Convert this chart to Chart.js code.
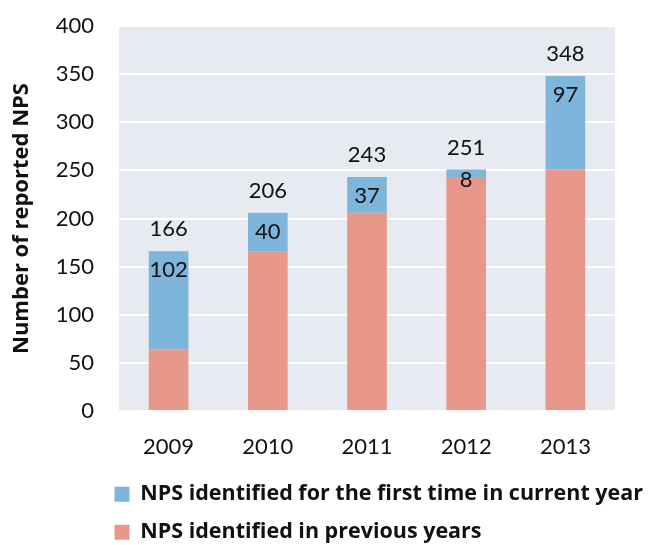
<!DOCTYPE html>
<html>
<head>
<meta charset="utf-8">
<script src="https://cdn.jsdelivr.net/npm/chart.js@4"></script>
<style>
  html, body { margin: 0; padding: 0; background: #fff; }
  #wrap { width: 654px; height: 545px; }
</style>
</head>
<body>
<div id="wrap"><canvas id="grafico"></canvas></div>
<script>
const anos = ['2009', '2010', '2011', '2012', '2013'];
const anteriores = [64, 166, 206, 243, 251];
const novos = [102, 40, 37, 8, 97];
const ticksY = [0, 50, 100, 150, 200, 250, 300, 350, 400];

const FONTE = 'Lato, "Open Sans", sans-serif';
const FONTE_NEGRITO = '"Open Sans", Roboto, sans-serif';

// fundo da area do grafico
const fundoPlugin = {
    id: 'fundo',
    beforeDraw(chart) {
        const { ctx, chartArea: a } = chart;
        ctx.save();
        ctx.fillStyle = '#e8eaf1';
        ctx.fillRect(a.left, a.top, a.right - a.left, a.bottom - a.top);
        ctx.restore();
    }
};

// rotulos: valor do segmento azul e total acima da barra
const rotulosPlugin = {
    id: 'rotulos',
    afterDatasetsDraw(chart) {
        const { ctx } = chart;
        const metaNovos = chart.getDatasetMeta(1);
        ctx.save();
        ctx.font = '22px ' + FONTE;
        ctx.fillStyle = '#111';
        ctx.textAlign = 'center';
        ctx.textBaseline = 'middle';
        metaNovos.data.forEach((bar, i) => {
            const topo = bar.y;
            const base = bar.base;
            const yIn = Math.min(topo + 19, (topo + base) / 2 + 7);
            ctx.fillText(String(novos[i]), bar.x, yIn);
            ctx.fillText(String(anteriores[i] + novos[i]), bar.x, topo - 22);
        });
        ctx.restore();
    }
};

// legenda alinhada a esquerda como no original (e sem corte a direita)
const legendaPlugin = {
    id: 'legendaPos',
    afterLayout(chart) {
        const leg = chart.legend;
        if (leg) {
            leg.left = leg.left - 21;
            leg.right = chart.width;
            leg.width = leg.right - leg.left;
        }
    }
};

const ctx = document.getElementById('grafico').getContext('2d');
new Chart(ctx, {
    type: 'bar',
    data: {
        labels: anos,
        datasets: [
            {
                label: 'NPS identified in previous years',
                data: anteriores,
                backgroundColor: '#e8978b',
                borderWidth: 0,
                barPercentage: 0.4,
                categoryPercentage: 1.0
            },
            {
                label: 'NPS identified for the first time in current year',
                data: novos,
                backgroundColor: '#7eb5db',
                borderWidth: 0,
                barPercentage: 0.4,
                categoryPercentage: 1.0
            }
        ]
    },
    options: {
        responsive: true,
        maintainAspectRatio: false,
        animation: false,
        layout: { padding: { top: 26, right: 39, bottom: -8, left: 0 } },
        scales: {
            x: {
                stacked: true,
                grid: { display: false, drawTicks: false },
                border: { display: false },
                ticks: { color: '#111', font: { family: FONTE, size: 22 }, padding: 23 },
                afterFit(scale) { scale.height = 56; }
            },
            y: {
                stacked: true,
                min: 0,
                max: 400,
                afterBuildTicks(scale) { scale.ticks = ticksY.map(v => ({ value: v })); },
                grid: { color: '#ffffff', lineWidth: 2, drawTicks: true, tickLength: 25, tickColor: 'rgba(0,0,0,0)' },
                border: { display: false },
                ticks: { color: '#111', font: { family: FONTE, size: 22 }, padding: 0 },
                title: {
                    display: true,
                    text: 'Number of reported NPS',
                    color: '#111',
                    font: { family: FONTE_NEGRITO, size: 22, weight: 'bold' },
                    padding: { top: 9, bottom: 0 }
                },
                afterFit(scale) { scale.width = 119; }
            }
        },
        plugins: {
            legend: {
                position: 'bottom',
                fullSize: false,
                align: 'start',
                reverse: true,
                labels: {
                    color: '#111',
                    font: { family: FONTE_NEGRITO, size: 21.5, weight: 'bold' },
                    boxWidth: 15,
                    boxHeight: 15,
                    padding: 16.5
                }
            },
            tooltip: { enabled: false }
        }
    },
    plugins: [fundoPlugin, rotulosPlugin, legendaPlugin]
});
</script>
</body>
</html>
